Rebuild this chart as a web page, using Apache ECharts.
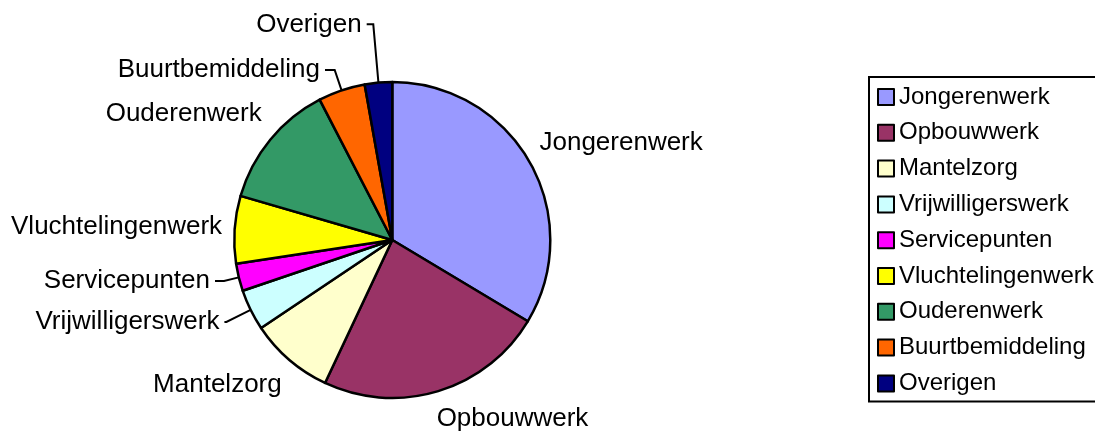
<!DOCTYPE html>
<html>
<head>
<meta charset="utf-8">
<script src="https://cdn.jsdelivr.net/npm/echarts@6/dist/echarts.min.js"></script>
<style>
html,body{margin:0;padding:0;background:#fff;}
#c{width:1095px;height:433px;}
</style>
</head>
<body>
<div id="c"></div>
<script>
// Data (share in %)
const categories = ['Jongerenwerk','Opbouwwerk','Mantelzorg','Vrijwilligerswerk','Servicepunten','Vluchtelingenwerk','Ouderenwerk','Buurtbemiddeling','Overigen'];
const values = [33.6, 23.4, 8.6, 4.2, 2.8, 6.9, 12.9, 4.8, 2.8];
const colors = ['#9999FF','#993366','#FFFFCC','#CCFFFF','#FF00FF','#FFFF00','#339966','#FF6600','#000080'];

// Label placement (style only): [radial length, horizontal length, show leader line]
const labelLines = [
  [38.7, -29, false],
  [29.4, -15.2, false],
  [33.6, -19.3, false],
  [27, 2, true],
  [15.2, 9, true],
  [44, -36.3, false],
  [40, -27.4, false],
  [21.5, 9.7, true],
  [58.5, 6.6, true]
];

const chart = echarts.init(document.getElementById('c'), null, {renderer:'canvas'});
const font = 'Arial, "Liberation Sans", sans-serif';
chart.setOption({
  animation: false,
  backgroundColor: '#fff',
  legend: {
    orient: 'vertical',
    left: 869,
    top: 77,
    padding: [8, 30, 6, 8],
    itemWidth: 16,
    itemHeight: 16,
    itemGap: 11.8,
    borderColor: '#000',
    borderWidth: 2,
    icon: 'rect',
    itemStyle: {borderColor:'#000', borderWidth:2},
    textStyle: {fontFamily: font, fontSize: 24, color:'#000', lineHeight: 24},
    data: categories,
    selectedMode: false
  },
  series: [{
    type: 'pie',
    center: [392.3, 240],
    radius: 158,
    startAngle: 90,
    clockwise: true,
    avoidLabelOverlap: false,
    emphasis: {disabled: true},
    itemStyle: {borderColor:'#000', borderWidth:2.5},
    label: {
      show: true,
      position: 'outside',
      fontFamily: font,
      fontSize: 26,
      color: '#000',
      padding: [3, 0, 0, 0],
      distanceToLabelLine: 5,
      formatter: '{b}'
    },
    labelLine: {lineStyle:{color:'#000', width:2}},
    data: categories.map((n,i)=>({
      name: n,
      value: values[i],
      itemStyle: {color: colors[i]},
      labelLine: {show: labelLines[i][2], length: labelLines[i][0], length2: labelLines[i][1]}
    }))
  }]
});
</script>
</body>
</html>
